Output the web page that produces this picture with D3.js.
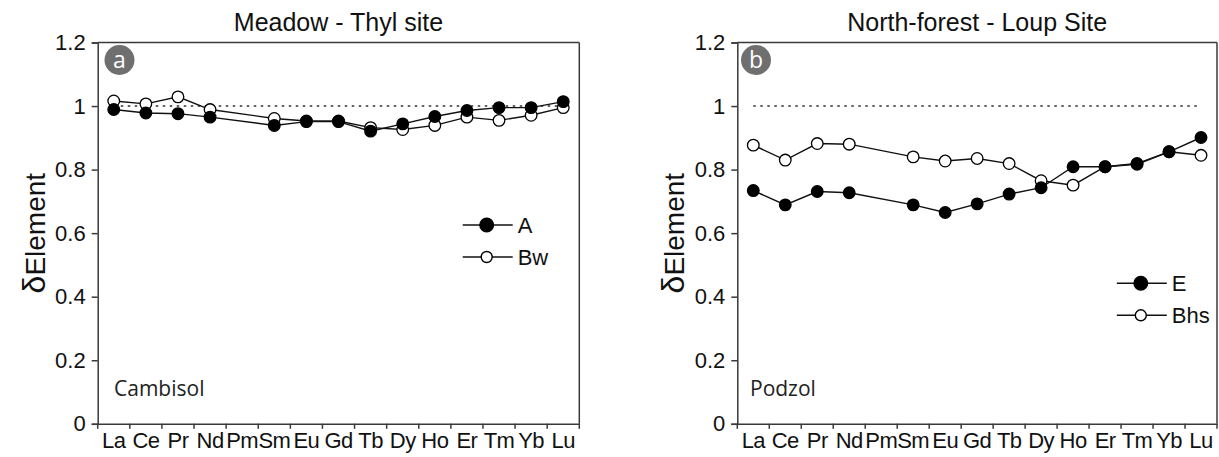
<!DOCTYPE html>
<html><head><meta charset="utf-8">
<script src="https://cdn.jsdelivr.net/npm/d3@7/dist/d3.min.js"></script>
<style>
html,body{margin:0;padding:0;background:#fff;}
svg{display:block;}
</style></head>
<body>
<svg id="chart" width="1219" height="457"></svg>
<script>
const categories = ["La","Ce","Pr","Nd","Pm","Sm","Eu","Gd","Tb","Dy","Ho","Er","Tm","Yb","Lu"];
const yTickValues = [0,0.2,0.4,0.6,0.8,1,1.2];

// Panel a: Meadow - Thyl site (Cambisol)
const seriesA_A  = [0.989,0.978,0.976,0.965,null,0.939,0.951,0.951,0.921,0.944,0.967,0.986,0.995,0.995,1.014];
const seriesA_Bw = [1.016,1.007,1.029,0.989,null,0.961,0.953,0.953,0.932,0.926,0.939,0.965,0.955,0.971,0.995];
// Panel b: North-forest - Loup Site (Podzol)
const seriesB_E   = [0.734,0.689,0.731,0.727,null,0.689,0.665,0.692,0.723,0.743,0.809,0.809,0.817,0.856,0.901];
const seriesB_Bhs = [0.877,0.830,0.882,0.880,null,0.840,0.827,0.835,0.819,0.765,0.751,0.809,0.819,0.856,0.845];

const panels = [
  {title:"Meadow - Thyl site", badge:"a", soil:"Cambisol", x0:97.7, x1:579.3,
   series:[{name:"Bw", vals:seriesA_Bw, filled:false},{name:"A", vals:seriesA_A, filled:true}],
   legend:{x:462.7, y:225, names:["A","Bw"]}, soilX:114, badgeX:119.5},
  {title:"North-forest - Loup Site", badge:"b", soil:"Podzol", x0:737.3, x1:1217,
   series:[{name:"Bhs", vals:seriesB_Bhs, filled:false},{name:"E", vals:seriesB_E, filled:true}],
   legend:{x:1116.8, y:283.3, names:["E","Bhs"]}, soilX:750, badgeX:756}
];

const svg = d3.select("#chart");
const yTop = 42.5, yBot = 423.8;
const axisColor = "#3a3a3a";
const sans = "'Liberation Sans', Arial, sans-serif";
const humanist = "'Open Sans', sans-serif";

panels.forEach(p => {
  const g = svg.append("g");
  const x = d3.scaleBand().domain(categories).range([p.x0, p.x1]).padding(0);
  const y = d3.scaleLinear().domain([0,1.2]).range([yBot, yTop]);
  const cx = c => x(c) + x.bandwidth()/2;

  // frame (top & right)
  g.append("line").attr("x1",p.x0).attr("x2",p.x1).attr("y1",yTop).attr("y2",yTop)
    .attr("stroke",axisColor).attr("stroke-width",1.5);
  g.append("line").attr("x1",p.x1).attr("x2",p.x1).attr("y1",yTop).attr("y2",yBot)
    .attr("stroke",axisColor).attr("stroke-width",1.5);

  // y axis
  const yAx = g.append("g").attr("transform",`translate(${p.x0},0)`)
    .call(d3.axisLeft(y).tickValues(yTickValues).tickSize(6).tickPadding(6).tickFormat(d3.format("~g")));
  yAx.select(".domain").attr("stroke",axisColor).attr("stroke-width",1.5);
  yAx.selectAll(".tick line").attr("stroke",axisColor).attr("stroke-width",1.5);
  yAx.selectAll("text").attr("font-family",sans).attr("font-size",22).attr("fill","#111");

  // x axis: labels centred in bands, ticks at band edges
  const xAx = g.append("g").attr("transform",`translate(0,${yBot})`)
    .call(d3.axisBottom(x).tickSize(0).tickPadding(9));
  xAx.select(".domain").attr("stroke",axisColor).attr("stroke-width",1.5);
  xAx.selectAll("text").attr("font-family",sans).attr("font-size",22).attr("fill","#111")
    .attr("letter-spacing","-0.6");
  const edges = categories.map(c => x(c)).concat([p.x1]);
  xAx.selectAll(".edge").data(edges).join("line").attr("class","edge")
    .attr("x1",d=>d).attr("x2",d=>d).attr("y1",0).attr("y2",5)
    .attr("stroke",axisColor).attr("stroke-width",1.5);

  // y label
  const yl = g.append("text")
    .attr("transform",`translate(${p.x0-53},${(yTop+yBot)/2}) rotate(-90)`)
    .attr("text-anchor","middle").attr("font-family",sans).attr("font-size",28).attr("fill","#111");
  yl.append("tspan").attr("font-size",32).text("δ");
  yl.append("tspan").text("Element");

  // title
  g.append("text").attr("x",(p.x0+p.x1)/2).attr("y",31).attr("text-anchor","middle")
    .attr("font-family",sans).attr("font-size",25).attr("fill","#111").text(p.title);

  // badge
  g.append("circle").attr("cx",p.badgeX).attr("cy",60).attr("r",15).attr("fill","#6f6f6f");
  g.append("text").attr("x",p.badgeX).attr("y",68).attr("text-anchor","middle")
    .attr("font-family",humanist).attr("font-size",23).attr("fill","#fff").text(p.badge);

  // soil label
  g.append("text").attr("x",p.soilX).attr("y",396).attr("font-family",humanist)
    .attr("font-size",21).attr("fill","#222").text(p.soil);

  // reference line at 1
  g.append("line").attr("x1",cx(categories[0])).attr("x2",cx(categories[categories.length-1]))
    .attr("y1",y(1)).attr("y2",y(1)).attr("stroke","#333").attr("stroke-width",1.6)
    .attr("stroke-dasharray","2.5,4.5");

  // series
  p.series.forEach(s => {
    const pts = categories.map((c,i)=>({c, v:s.vals[i]})).filter(d => d.v !== null);
    g.append("path").datum(pts)
      .attr("d", d3.line().x(d=>cx(d.c)).y(d=>y(d.v)))
      .attr("fill","none").attr("stroke","#111").attr("stroke-width",1.4);
  });
  p.series.forEach(s => {
    const pts = categories.map((c,i)=>({c, v:s.vals[i]})).filter(d => d.v !== null);
    g.selectAll(null).data(pts).join("circle")
      .attr("cx",d=>cx(d.c)).attr("cy",d=>y(d.v)).attr("r",5.8)
      .attr("fill", s.filled ? "#000" : "#fff").attr("stroke","#000").attr("stroke-width",1.3);
  });

  // legend
  p.legend.names.forEach((n,i) => {
    const s = p.series.find(q => q.name === n);
    const ly = p.legend.y + i*32;
    g.append("line").attr("x1",p.legend.x).attr("x2",p.legend.x+50).attr("y1",ly).attr("y2",ly)
      .attr("stroke","#111").attr("stroke-width",1.6);
    g.append("circle").attr("cx",p.legend.x+24).attr("cy",ly).attr("r", s.filled ? 6.8 : 5.5)
      .attr("fill", s.filled ? "#000" : "#fff").attr("stroke","#000").attr("stroke-width",1.4);
    g.append("text").attr("x",p.legend.x+55).attr("y",ly+8).attr("font-family",sans)
      .attr("font-size",22).attr("fill","#111").text(n);
  });
});
</script>
</body></html>
